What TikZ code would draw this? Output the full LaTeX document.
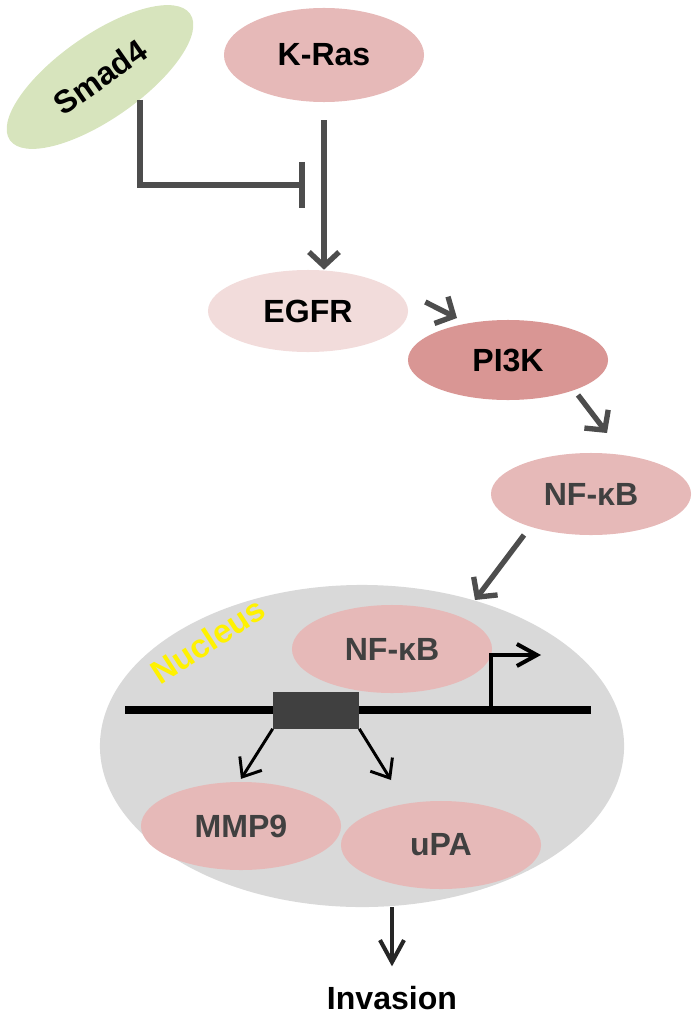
\documentclass[tikz,border=0pt]{standalone}
\usepackage{fontspec}
\setmainfont{Liberation Sans}
\usetikzlibrary{arrows.meta,shapes.geometric}

\definecolor{smadgreen}{HTML}{D7E4BD}
\definecolor{raspink}{HTML}{E6B9B8}
\definecolor{egfrpink}{HTML}{F2DCDB}
\definecolor{pikpink}{HTML}{D99694}
\definecolor{nucgray}{HTML}{D9D9D9}
\definecolor{arrgray}{HTML}{4D4D4D}
\definecolor{boxgray}{HTML}{404040}

\begin{document}
\begin{tikzpicture}[x=0.025cm,y=-0.025cm,
    prot/.style={ellipse, inner sep=0pt, minimum width=5cm, minimum height=2.1cm,
      font=\fontsize{22.8}{26}\selectfont\bfseries},
    act/.style={draw=arrgray, line width=3.8pt, -{Straight Barb[length=0.35cm,width=0.75cm]}},
    inh/.style={draw=arrgray, line width=4pt, -{Bar[width=1.15cm]}},
    geneact/.style={draw=black, line width=2.1pt, -{Straight Barb[length=0.4cm,width=0.65cm]}}]
        \useasboundingbox (0,0) rectangle (698,1018);

        % cytoplasm
        \node[prot, fill=smadgreen, minimum width=5.5cm, minimum height=2.1cm, rotate=35] (smad4) at (100,77) {Smad4};
        \node[prot, fill=raspink, minimum height=2.35cm] (kras) at (324,55) {K-Ras};
        \node[prot, fill=egfrpink, minimum height=2.05cm] (egfr) at (308,311) {EGFR};
        \node[prot, fill=pikpink, minimum height=2cm] (pi3k) at (508,360) {PI3K};
        \node[prot, fill=raspink, text=boxgray, minimum height=2.05cm] (nfkb) at (591,494) {NF-κB};

        % nucleus
        \node[ellipse, fill=nucgray, minimum width=13.1cm, minimum height=8.05cm] (nucleus) at (362,746) {};
        \node[rotate=33, inner sep=0pt, text=yellow, font=\fontsize{23.5}{26}\selectfont\bfseries] (nuclbl) at (208,641) {Nucleus};
        \node[prot, fill=raspink, text=boxgray, minimum height=2.2cm] (nfkbin) at (392,649) {NF-κB};
        \node[prot, fill=raspink, text=boxgray, minimum height=2.2cm] (mmp9) at (241,826) {MMP9};
        \node[prot, fill=raspink, text=boxgray, minimum height=2.2cm] (upa) at (441,845) {uPA};

        \coordinate (dnaL) at (125,710);
        \coordinate (dnaR) at (591,710);
        \coordinate (tss) at (491,710);
        \draw[black, line width=6.2pt] (dnaL) -- (dnaR);
        \draw[black, line width=2.85pt, -{Straight Barb[length=0.5cm,width=0.55cm]}] (tss) |- (541,655);
        \node[fill=boxgray, inner sep=0pt, minimum width=2.15cm, minimum height=0.925cm] (box) at (316,710) {};

        \node[inner sep=0pt, font=\fontsize{22.8}{26}\selectfont\bfseries] (invasion) at (392,998) {Invasion};

        % connectors
        \coordinate (block) at (305,185);
        \draw[inh] ([shift={(40,23)}]smad4.center) |- (block);
        \draw[act, shorten <=0.45cm] (kras.south) -- (kras.south |- egfr.north);
        \draw[act] ([shift={(17,-9)}]egfr.east) -- ([shift={(-51,-42)}]pi3k.center);
        \draw[act] ([shift={(70,35)}]pi3k.center) -- ([shift={(16,-61)}]nfkb.center);
        \draw[act] ([shift={(-67,41)}]nfkb.center) -- ([shift={(113,-146)}]nucleus.center);
        \draw[geneact] (box.south west) -- ([yshift=2]mmp9.north);
        \draw[geneact] (box.south east) -- ([shift={(-50,-65)}]upa.center);
        \draw[draw=black!85, line width=2.9pt, -{Straight Barb[length=0.55cm,width=0.6cm]}, shorten >=0.49cm]
          (invasion.north |- nucleus.south) -- (invasion.north);
\end{tikzpicture}
\end{document}
